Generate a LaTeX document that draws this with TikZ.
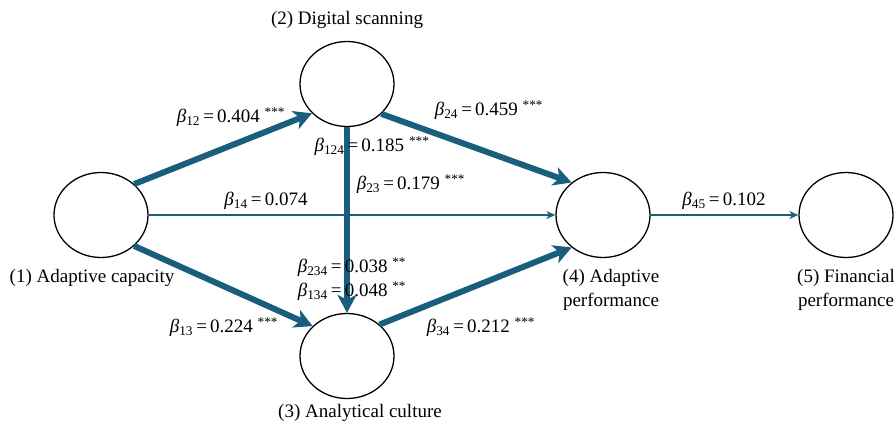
\documentclass[tikz,border=0pt]{standalone}
\usepackage{fontspec}
\setmainfont{Liberation Serif}
\usetikzlibrary{arrows.meta,shapes.geometric}
\definecolor{pathblue}{RGB}{26,94,126}
\newcommand{\bcoef}[3]{{\itshape β}\textsubscript{#1}\,=\,#2\ifx&#3&\else\ \textsuperscript{#3}\fi}
\begin{document}
\begin{tikzpicture}[x=1pt,y=-1pt,
    font=\fontsize{19}{24}\selectfont,
    latent/.style={draw,ellipse,line width=1.3pt,minimum width=94pt,minimum height=85pt,inner sep=0pt},
    strong/.style={draw=pathblue,line width=6pt,-{Stealth[length=18pt,width=19pt,inset=5pt]}},
    weak/.style={draw=pathblue,line width=2pt,-{Stealth[length=9pt,width=8pt]}},
    coef/.style={inner sep=0pt}]
        \useasboundingbox (0,0) rectangle (896,426);
        \node[latent] (ac) at (101,215) {};
        \node[latent] (ds) at (347,84) {};
        \node[latent] (anc) at (347,356) {};
        \node[latent] (ap) at (603,215) {};
        \node[latent] (fp) at (846,215) {};
        \node (acl) at (92,278) {(1) Adaptive capacity};
        \node (dsl) at (347,20) {(2) Digital scanning};
        \node (ancl) at (360,413) {(3) Analytical culture};
        \node[align=center] (apl) at (611,290) {(4) Adaptive\\performance};
        \node[align=center] (fpl) at (846,290) {(5) Financial\\performance};
        \draw[strong] (ac.43) -- (ds.220);
        \draw[strong] (ac.-43) -- (anc.139);
        \draw[strong] (ds.-41) -- (ap.134);
        \draw[strong] (anc.44) -- (ap.226);
        \draw[strong] (ds.south) -- (anc.north);
        \draw[weak] (ac.east) -- (ap.west);
        \draw[weak] (ap.east) -- (fp.west);
        \node[coef] (b12) at (231,117) {\bcoef{12}{0.404}{***}};
        \node[coef] (b24) at (489,110) {\bcoef{24}{0.459}{***}};
        \node[coef] (b124) at (372,146) {\bcoef{124}{0.185}{***}};
        \node[coef] (b23) at (411,184) {\bcoef{23}{0.179}{***}};
        \node[coef] (b14) at (266,201) {\bcoef{14}{0.074}{}};
        \node[coef] (b45) at (724,201) {\bcoef{45}{0.102}{}};
        \node[coef] (b234) at (352,267) {\bcoef{234}{0.038}{**}};
        \node[coef] (b134) at (352,291) {\bcoef{134}{0.048}{**}};
        \node[coef] (b13) at (224,327) {\bcoef{13}{0.224}{***}};
        \node[coef] (b34) at (481,327) {\bcoef{34}{0.212}{***}};
      \end{tikzpicture}
\end{document}
